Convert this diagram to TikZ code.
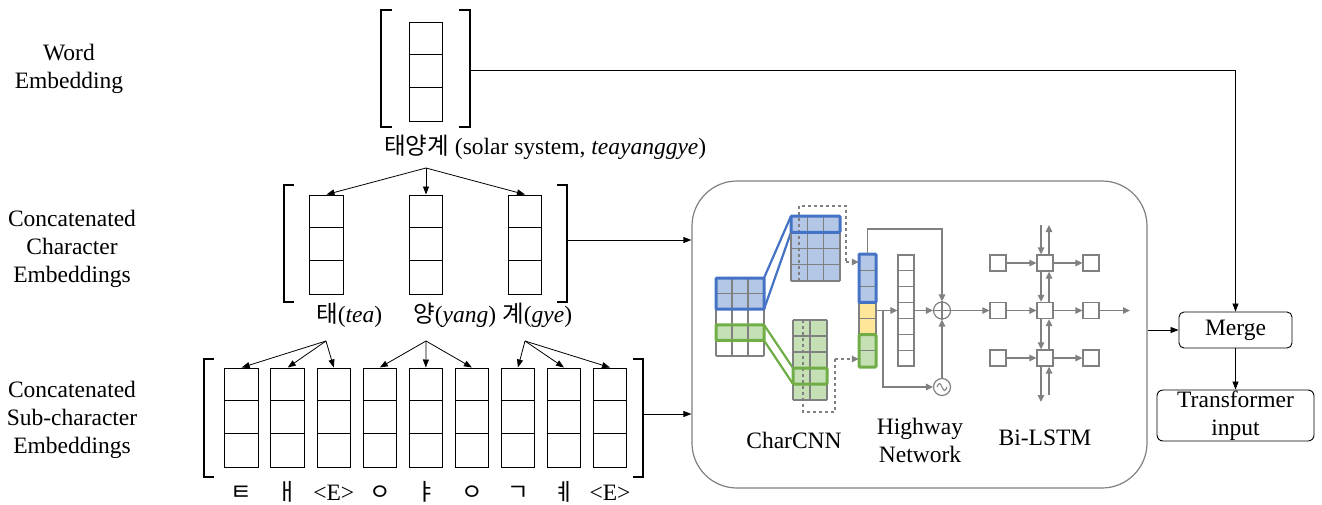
\documentclass[tikz,border=0pt]{standalone}
\usepackage{fontspec}
\setmainfont{Liberation Serif}
\newfontfamily\kr{Noto Sans CJK KR}
\usetikzlibrary{arrows.meta,calc}
\definecolor{bl}{HTML}{4472C4}
\definecolor{blf}{HTML}{B4C7E7}
\definecolor{gr}{HTML}{70AD47}
\definecolor{grf}{HTML}{C5E0B4}
\definecolor{yf}{HTML}{FFE699}
\definecolor{gy}{HTML}{808080}
\tikzset{
  txt/.style={font=\fontsize{23.5}{28}\selectfont, inner sep=0pt},
  ecol/.style={draw, line width=1pt, inner sep=0pt, minimum width=33.5pt, minimum height=99pt},
  arr/.style={-{Triangle[length=8pt,width=6pt]}, line width=0.8pt},
  gl/.style={gy, line width=1.1pt},
  garr/.style={gy, line width=1.3pt, -{Triangle[length=7pt,width=6.5pt]}},
  lbox/.style={draw=gy, line width=1.3pt, fill=white, inner sep=0pt, minimum size=16pt},
  brk/.style={line width=2.4pt},
  thickb/.style={bl, line width=3pt, rounded corners=1pt},
  thickg/.style={gr, line width=3pt, rounded corners=1pt},
  rbox/.style={draw, line width=0.9pt, inner sep=0pt, align=center, font=\fontsize{23.5}{28}\selectfont},
}
\newcommand{\embcol}[3]{%
  \node[ecol] (#1) at (#2,#3+49.5) {};
  \draw[line width=1pt] ([yshift=-33pt]#1.north west) -- ([yshift=-33pt]#1.north east)
        ([yshift=-66pt]#1.north west) -- ([yshift=-66pt]#1.north east);}
\begin{document}
\begin{tikzpicture}[x=1pt,y=-1pt]
\useasboundingbox (0,0) rectangle (1322,504);

% left labels
\node[txt, align=center] (lw) at (69,69) {Word\\Embedding};
\node[txt, align=center] (lc) at (72,249) {Concatenated\\Character\\Embeddings};
\node[txt, align=center] (ls) at (72,420) {Concatenated\\Sub-character\\Embeddings};

% word embedding
\embcol{w}{426}{22}
\draw[brk] (392,10) -- (381,10) -- (381,127) -- (392,127);
\draw[brk] (459,10) -- (470,10) -- (470,127) -- (459,127);
\node[txt, anchor=base west] (wcap) at (384,154) {{\kr 태양계} (solar system, \textit{teayanggye})};
\coordinate (wap) at (426,168);
\coordinate (wbr) at (471,70);

% character embeddings
\embcol{c1}{326.5}{195}
\embcol{c2}{426}{195}
\embcol{c3}{525}{195}
\draw[brk] (294,185) -- (284,185) -- (284,302) -- (294,302);
\draw[brk] (557,185) -- (567,185) -- (567,302) -- (557,302);
\foreach \c in {c1,c2,c3} \draw[arr] (wap) -- (\c.north);
\node[txt, anchor=base west] (t1) at (316,322) {{\kr 태}(\textit{tea})};
\node[txt, anchor=base west] (t2) at (413,322) {{\kr 양}(\textit{yang})};
\node[txt, anchor=base west] (t3) at (502,322) {{\kr 계}(\textit{gye})};
\coordinate (cbr) at (568,240);

% sub-character embeddings
\foreach \i in {1,...,9} {\pgfmathsetmacro{\sx}{241.7+46.04*(\i-1)}\embcol{s\i}{\sx}{368}}
\draw[brk] (214,359) -- (204,359) -- (204,477) -- (214,477);
\draw[brk] (633,359) -- (643,359) -- (643,477) -- (633,477);
\coordinate (a1) at (326,341);
\coordinate (a2) at (426,341);
\coordinate (a3) at (525,341);
\foreach \s in {s1,s2,s3} \draw[arr] (a1) -- (\s.north);
\foreach \s in {s4,s5,s6} \draw[arr] (a2) -- (\s.north);
\foreach \s in {s7,s8,s9} \draw[arr] (a3) -- (\s.north);
\foreach \i/\t in {1/{\kr ㅌ},2/{\kr ㅐ},3/{<E>},4/{\kr ㅇ},5/{\kr ㅑ},6/{\kr ㅇ},7/{\kr ㄱ},8/{\kr ㅖ},9/{<E>}}
  \node[txt, anchor=base] (j\i) at ($(s\i.south)+(0,33)$) {\t};
\coordinate (sbr) at (644,414);

% big box
\node[draw=gy, line width=1.2pt, rounded corners=45pt, minimum width=455pt, minimum height=307pt, inner sep=0pt] (big) at (919.5,334.5) {};
\draw[arr] (cbr) -- (cbr -| big.west);
\draw[arr] (sbr) -- (sbr -| big.west);

% CharCNN input matrix
\fill[blf] (716,278) rectangle (764,309.2);
\fill[grf] (716,324.8) rectangle (764,340.4);
\foreach \i in {0,...,3} \draw[gl] (716+16*\i,278) -- (716+16*\i,356);
\foreach \j in {0,...,5} \draw[gl] (716,278+15.6*\j) -- (764,278+15.6*\j);
\draw[thickb] (716,278) rectangle (764,309.2);
\draw[thickg] (716,324.8) rectangle (764,340.4);
\draw[bl, line width=2.2pt] (764,278) -- (791,216) (764,309.2) -- (791,232.25);
\draw[gr, line width=2.2pt] (764,324.8) -- (793,368) (764,340.4) -- (793,384);

% blue feature map
\fill[blf] (791,216) rectangle (840,281);
\foreach \i in {0,...,3} \draw[gl] (791+16.33*\i,216) -- (791+16.33*\i,281);
\foreach \j in {0,...,4} \draw[gl] (791,216+16.25*\j) -- (840,216+16.25*\j);
\draw[gy, dashed, line width=1.1pt] (799,281) -- (799,206) -- (846,206) -- (846,262);
\draw[thickb] (791,216) rectangle (840,232.25);

% green feature map
\fill[grf] (793,320) rectangle (827,400);
\foreach \i in {0,...,2} \draw[gl] (793+17*\i,320) -- (793+17*\i,400);
\foreach \j in {0,...,5} \draw[gl] (793,320+16*\j) -- (827,320+16*\j);
\draw[gy, dashed, line width=1.1pt] (803,320) -- (803,412) -- (835,412) -- (835,359);
\draw[thickg] (793,368) rectangle (827,384);

% concatenated vector
\node[inner sep=0pt, minimum width=17pt, minimum height=113pt] (vec) at (867.5,310.5) {};
\fill[blf] (859,254) rectangle (876,302.4);
\fill[yf] (859,302.4) rectangle (876,334.7);
\fill[grf] (859,334.7) rectangle (876,367);
\foreach \j in {0,...,7} \draw[gl] (859,254+16.14*\j) -- (876,254+16.14*\j);
\draw[gl] (859,254) -- (859,367) (876,254) -- (876,367);
\draw[thickb] (859,254) rectangle (876,302.4);
\draw[thickg] (859,334.7) rectangle (876,367);
\coordinate (d1) at (846,262);
\coordinate (d2) at (835,359);
\draw[garr, dashed] (d1) -- (d1 -| vec.west);
\draw[garr, dashed] (d2) -- (d2 -| vec.west);

% highway
\node[draw=gy, line width=1.1pt, inner sep=0pt, minimum width=16pt, minimum height=111pt] (hw) at (906,310.5) {};
\foreach \j in {1,...,6} \draw[gl] (898,255+15.86*\j) -- (914,255+15.86*\j);
\node[circle, draw=gy, line width=1.2pt, minimum size=17pt, inner sep=0pt] (plus) at (942,310.5) {};
\draw[gy, line width=1.2pt] (plus.north) -- (plus.south) (plus.west) -- (plus.east);
\node[circle, draw=gy, line width=1.2pt, minimum size=17pt, inner sep=0pt] (sig) at (942,387) {};
\draw[gy, line width=1.1pt] ([xshift=-5pt]sig.center) sin ++(2.5pt,3.5pt) cos ++(2.5pt,-3.5pt) sin ++(2.5pt,-3.5pt) cos ++(2.5pt,3.5pt);
\coordinate (sk) at (867.5,229);
\draw[garr] (vec.north) -- (sk) -| (plus.north);
\draw[garr] (vec.east) -- (vec.east -| hw.west);
\coordinate (br) at (883,310.5);
\draw[garr] (br) |- (sig.west);
\draw[garr] (hw.east) -- (plus.west);
\draw[garr] (sig.north) -- (plus.south);

% Bi-LSTM
\foreach \r/\y in {1/263,2/310.5,3/358} {
  \node[lbox] (l\r1) at (998,\y) {};
  \node[lbox] (l\r2) at (1045,\y) {};
  \node[lbox] (l\r3) at (1091,\y) {};
  \draw[garr] (l\r1) -- (l\r2);
  \draw[garr] (l\r2) -- (l\r3);
}
\draw[garr] (plus.east) -- (l21.west);
\coordinate (lout) at (1130,310.5);
\draw[garr] (l23.east) -- (lout);
\coordinate (tdn) at (1041,225);
\coordinate (bdn) at (1041,402);
\coordinate (tup) at (1049,225);
\coordinate (bup) at (1049,395);
\draw[garr] (tdn) -- ([xshift=-4pt]l12.north);
\draw[garr] ([xshift=-4pt]l12.south) -- ([xshift=-4pt]l22.north);
\draw[garr] ([xshift=-4pt]l22.south) -- ([xshift=-4pt]l32.north);
\draw[garr] ([xshift=-4pt]l32.south) -- (bdn);
\draw[garr] (bup) -- ([xshift=4pt]l32.south);
\draw[garr] ([xshift=4pt]l32.north) -- ([xshift=4pt]l22.south);
\draw[garr] ([xshift=4pt]l22.north) -- ([xshift=4pt]l12.south);
\draw[garr] ([xshift=4pt]l12.north) -- (tup);

% captions in box
\node[txt] (cnn) at (794,440) {CharCNN};
\node[txt, align=center] (hwt) at (920,440) {Highway\\Network};
\node[txt] (lst) at (1045,438) {Bi-LSTM};

% merge / transformer
\node[rbox, rounded corners=5pt, minimum width=113pt, minimum height=36pt] (merge) at (1235.5,330) {Merge};
\node[rbox, rounded corners=6pt, minimum width=157pt, minimum height=51pt] (trans) at (1235.5,415.5) {Transformer\\input};
\draw[arr] (merge.west -| big.east) -- (merge.west);
\draw[arr] (merge.south) -- (trans.north);
\draw[arr] (wbr) -| (merge.north);
\end{tikzpicture}
\end{document}
